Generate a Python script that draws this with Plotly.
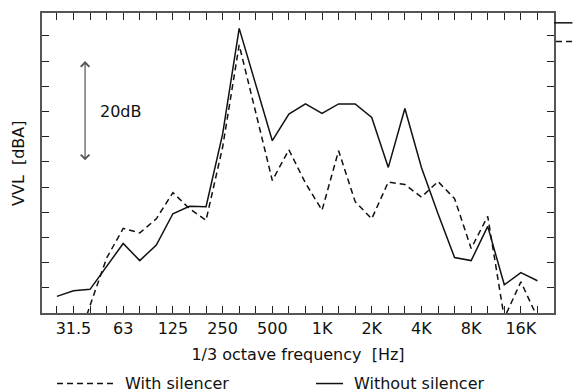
import plotly.graph_objects as go

# 1/3 octave band centre frequencies (categories)
bands = ["25", "31.5", "40", "50", "63", "80", "100", "125", "160", "200",
         "250", "315", "400", "500", "630", "800", "1K", "1.25K", "1.6K", "2K",
         "2.5K", "3.15K", "4K", "5K", "6.3K", "8K", "10K", "12.5K", "16K", "20K"]
labelled = ["31.5", "63", "125", "250", "500", "1K", "2K", "4K", "8K", "16K"]

# A-weighted vibration level [dBA] (relative scale, 5 dB per tick)
without_silencer = [33.3, 34.4, 34.7, 39.3, 43.8, 40.4, 43.5, 49.7, 51.2, 51.1,
                    65.5, 86.5, 75.4, 64.2, 69.5, 71.5, 69.6, 71.5, 71.5, 68.8,
                    58.9, 70.6, 58.9, 49.7, 41.0, 40.4, 47.2, 35.6, 38.0, 36.4]
with_silencer = [15.0, 21.6, 31.5, 40.9, 46.8, 45.9, 48.7, 53.9, 50.7, 48.4,
                 62.9, 83.2, 69.8, 56.3, 62.4, 55.8, 50.4, 62.2, 52.1, 48.7,
                 56.0, 55.5, 53.0, 56.1, 52.7, 42.8, 49.2, 29.0, 36.2, 29.1]
overall = {"Without silencer": 87.6, "With silencer": 83.9}

y_ticks = [30, 35, 40, 45, 50, 55, 60, 65, 70, 75, 80, 85]
scale_bar = (60, 80)  # 20 dB reference arrow

FONT = "DejaVu Sans, Liberation Sans, sans-serif"
FS = 16
DASH = "6px,4px"
INK = "#111111"

fig = go.Figure()
fig.add_trace(go.Scatter(x=bands, y=with_silencer, mode="lines", name="With silencer",
                         line=dict(color=INK, width=1.5, dash=DASH)))
fig.add_trace(go.Scatter(x=bands, y=without_silencer, mode="lines", name="Without silencer",
                         line=dict(color=INK, width=1.5)))

# overall (OA) values drawn just outside the right frame
fig.add_shape(type="line", xref="x domain", yref="y", x0=1.0, x1=1.036,
              y0=overall["Without silencer"], y1=overall["Without silencer"],
              line=dict(color=INK, width=1.5))
fig.add_shape(type="line", xref="x domain", yref="y", x0=1.004, x1=1.036,
              y0=overall["With silencer"], y1=overall["With silencer"],
              line=dict(color=INK, width=1.5, dash=DASH))

# 20 dB scale arrow
fig.add_annotation(x=1.7, y=scale_bar[1], ax=1.7, ay=scale_bar[0], xref="x", yref="y",
                   axref="x", ayref="y", text="", showarrow=True,
                   arrowhead=4, startarrowhead=4, arrowside="end+start",
                   arrowsize=1.4, startarrowsize=1.4, arrowwidth=1.2, arrowcolor="#555555",
                   standoff=0, startstandoff=0)
fig.add_annotation(x=2.5, y=(scale_bar[0] + scale_bar[1]) / 2, xref="x", yref="y",
                   text="20dB", showarrow=False, xanchor="left", yanchor="middle",
                   font=dict(family=FONT, size=FS, color=INK))

# OA label
fig.add_annotation(x=30.75, y=0, xref="x", yref="paper", yshift=-16, text="OA",
                   showarrow=False, xanchor="center", yanchor="middle",
                   font=dict(family=FONT, size=FS, color=INK))

# y-axis title
fig.add_annotation(x=-(42 - 18) / 512, y=0.5, xref="paper", yref="paper",
                   text="VVL  [dBA]", textangle=-90, showarrow=False,
                   xanchor="center", yanchor="middle",
                   font=dict(family=FONT, size=FS, color=INK))

# custom legend under the chart
LEG_Y = -(384 - 313) / 302
fig.add_shape(type="line", xref="paper", yref="paper", x0=(57 - 42) / 512, x1=(113 - 42) / 512,
              y0=LEG_Y, y1=LEG_Y, line=dict(color=INK, width=1.5, dash=DASH))
fig.add_annotation(x=(123 - 42) / 512, y=LEG_Y, xref="paper", yref="paper",
                   text="With silencer", showarrow=False, xanchor="left", yanchor="middle",
                   font=dict(family=FONT, size=FS, color=INK))
fig.add_shape(type="line", xref="paper", yref="paper", x0=(316 - 42) / 512, x1=(343 - 42) / 512,
              y0=LEG_Y, y1=LEG_Y, line=dict(color=INK, width=1.5))
fig.add_annotation(x=(352 - 42) / 512, y=LEG_Y, xref="paper", yref="paper",
                   text="Without silencer", showarrow=False, xanchor="left", yanchor="middle",
                   font=dict(family=FONT, size=FS, color=INK))

fig.update_layout(
    width=581, height=392,
    margin=dict(l=42, r=27, t=11, b=79),
    paper_bgcolor="white", plot_bgcolor="white",
    showlegend=False,
    font=dict(family=FONT, size=FS, color=INK),
    xaxis=dict(
        type="category", categoryorder="array", categoryarray=bands,
        range=[-0.9, 30], tickmode="array", tickvals=bands,
        ticktext=[b if b in labelled else "" for b in bands],
        ticks="inside", ticklen=7, tickwidth=1.3, tickcolor="#222222",
        showline=True, linecolor="#555555", linewidth=2, mirror="allticks",
        showgrid=False, zeroline=False,
        title=dict(text="1/3 octave frequency  [Hz]", standoff=12,
                   font=dict(family=FONT, size=FS, color=INK)),
        tickfont=dict(family=FONT, size=FS, color=INK),
    ),
    yaxis=dict(
        range=[30, 89.55], tickmode="array", tickvals=y_ticks, showticklabels=False,
        ticks="inside", ticklen=7, tickwidth=1.3, tickcolor="#222222",
        showline=True, linecolor="#555555", linewidth=2, mirror="allticks",
        showgrid=False, zeroline=False,
    ),
)

fig.write_html("out.html")
